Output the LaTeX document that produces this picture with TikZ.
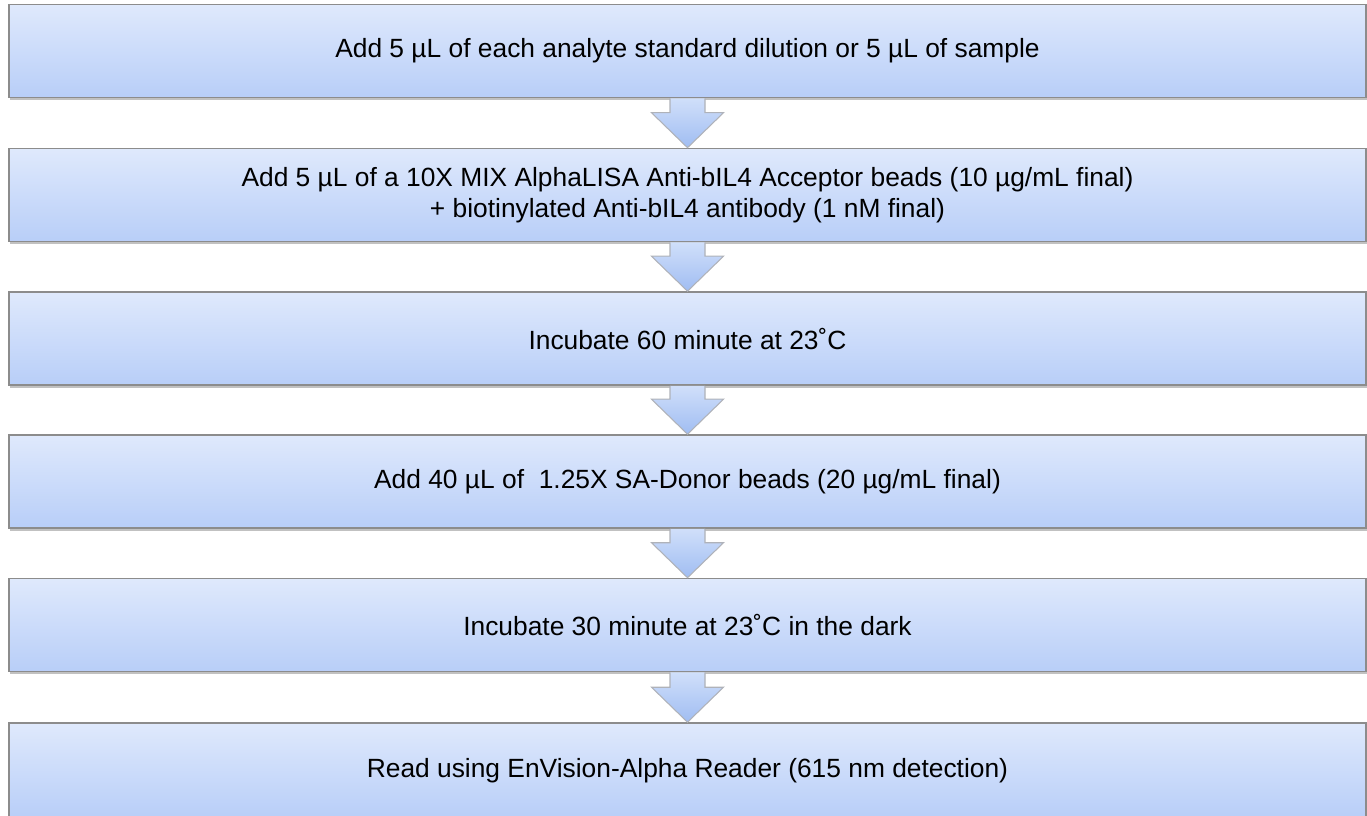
\documentclass[tikz,border=0pt]{standalone}
\usepackage{fontspec}
\setmainfont{Liberation Sans}
\usepackage{tikz}
\usetikzlibrary{calc,shadows}
\definecolor{boxtop}{RGB}{223,233,252}
\definecolor{boxbottom}{RGB}{184,206,248}
\definecolor{boxline}{RGB}{140,140,140}
\definecolor{arrowtop}{RGB}{208,223,250}
\definecolor{arrowbottom}{RGB}{160,189,242}
\definecolor{arrowline}{RGB}{175,178,185}

\begin{document}
\begin{tikzpicture}[
	stepbox/.style={draw=boxline, line width=0.9pt, top color=boxtop, bottom color=boxbottom,
		minimum width=27.14cm, minimum height=1.86cm, inner sep=0pt, align=center,
		font=\fontsize{15}{17.5}\selectfont,
		drop shadow={shadow xshift=0.6pt, shadow yshift=-1.6pt, opacity=0.35, fill=black!70}},
	flowarrow/.style={draw=arrowline, line width=0.6pt, top color=arrowtop, bottom color=arrowbottom}
	]
			\useasboundingbox (0,0) rectangle (27.34,-16.3);
			\node[stepbox] (sample) at (13.75,-1.02) {Add 5 µL of each analyte standard dilution or 5 µL of sample};
			\node[stepbox] (acceptor) at (13.75,-3.9) {Add 5 µL of a 10X MIX AlphaLISA Anti-bIL4 Acceptor beads (10 µg/mL final)\\+ biotinylated Anti-bIL4 antibody (1 nM final)};
			\node[stepbox] (incubA) at (13.75,-6.77) {Incubate 60 minute at 23˚C};
			\node[stepbox] (donor) at (13.75,-9.63) {Add 40 µL of\ \ 1.25X SA-Donor beads (20 µg/mL final)};
			\node[stepbox] (incubB) at (13.75,-12.5) {Incubate 30 minute at 23˚C in the dark};
			\node[stepbox, minimum height=1.9cm] (read) at (13.75,-15.41) {Read using EnVision-Alpha Reader (615 nm detection)};
			\foreach \a/\b in {sample/acceptor,acceptor/incubA,incubA/donor,donor/incubB,incubB/read}
				\draw[flowarrow] ($(\a.south)+(-0.35,0)$) -- ($(\b.north)+(-0.35,0.7)$) -- ($(\b.north)+(-0.72,0.7)$) -- (\b.north) -- ($(\b.north)+(0.72,0.7)$) -- ($(\b.north)+(0.35,0.7)$) -- ($(\a.south)+(0.35,0)$);
		\end{tikzpicture}
\end{document}
